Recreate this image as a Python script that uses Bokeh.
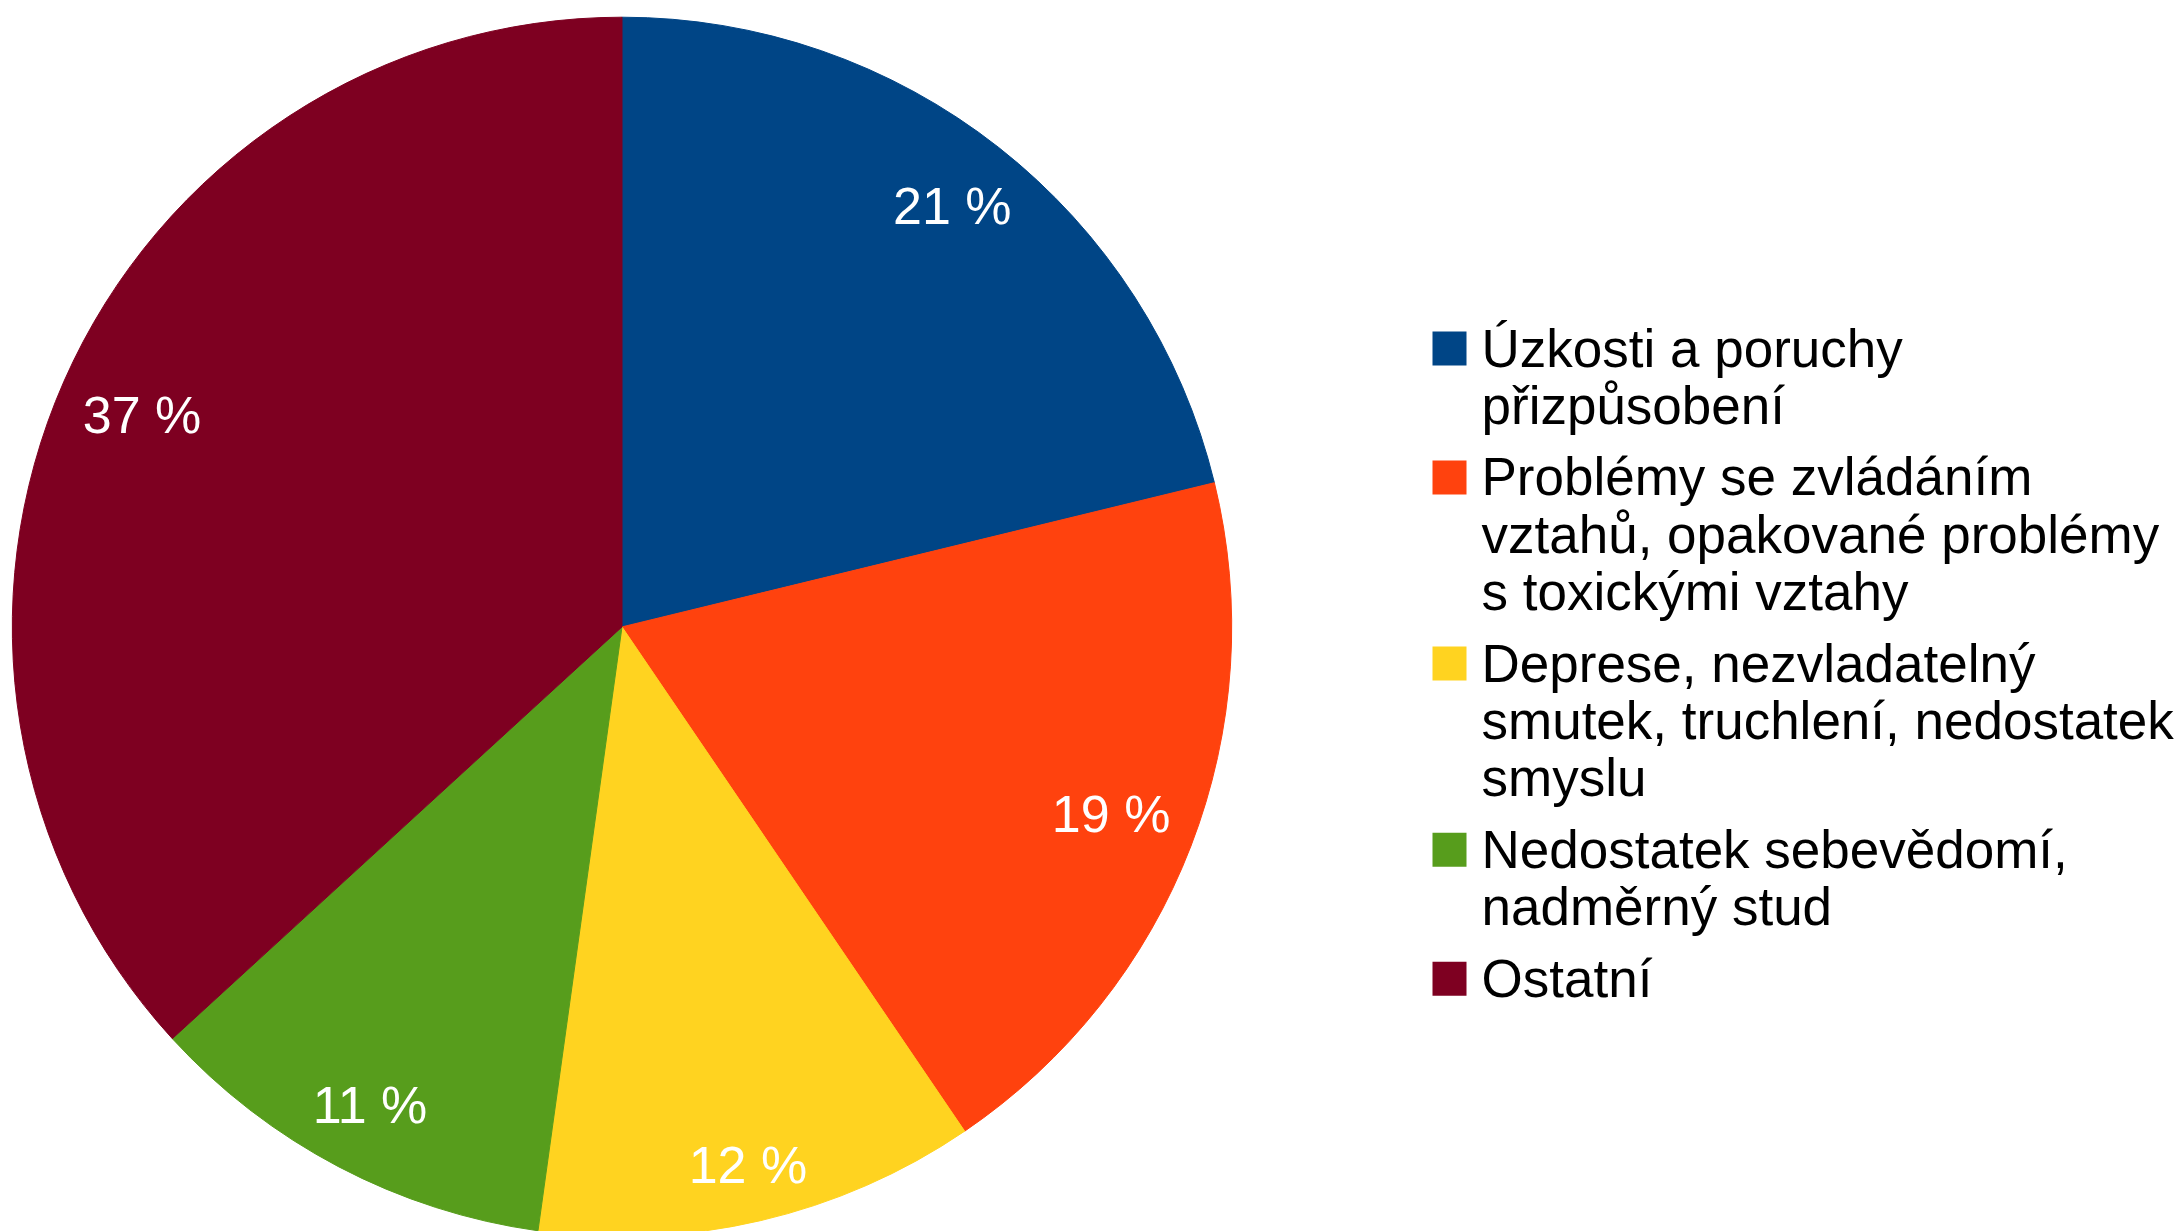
import math
from bokeh.plotting import figure
from bokeh.models import Range1d, ColumnDataSource
from bokeh.embed import file_html
from bokeh.resources import INLINE
from bokeh.core.properties import value

# ---- data ----
legend_lines = [
    ["Úzkosti a poruchy", "přizpůsobení"],
    ["Problémy se zvládáním", "vztahů, opakované problémy", "s toxickými vztahy"],
    ["Deprese, nezvladatelný", "smutek, truchlení, nedostatek", "smyslu"],
    ["Nedostatek sebevědomí,", "nadměrný stud"],
    ["Ostatní"],
]
shares = [21.2, 19.3, 11.7, 11.0, 36.8]
pct_labels = ["21 %", "19 %", "12 %", "11 %", "37 %"]
colors = ["#004586", "#ff420e", "#ffd320", "#579d1c", "#7e0021"]

# ---- layout (figure pixels, y measured downward) ----
W, H = 2180, 1231
CX, CY_DOWN, R = 621.5, 626.4, 609.7
FONT = value("Liberation Sans")


def ydata(y_down):
    return H - y_down


p = figure(width=W, height=H, output_backend="svg", toolbar_location=None,
           x_range=Range1d(0, W), y_range=Range1d(0, H),
           x_axis_type=None, y_axis_type=None, min_border=0)
p.outline_line_color = None
p.grid.visible = False
p.background_fill_color = "white"
p.border_fill_color = "white"

# ---- pie ----
total = sum(shares)
starts, ends, mids = [], [], []
cum = 0.0
for s in shares:
    f0 = cum / total
    cum += s
    f1 = cum / total
    starts.append(math.pi / 2 - 2 * math.pi * f0)
    ends.append(math.pi / 2 - 2 * math.pi * f1)
    mids.append(2 * math.pi * (f0 + f1) / 2)  # clockwise from top

src = ColumnDataSource(dict(start=starts, end=ends, color=colors))
p.wedge(x=CX, y=ydata(CY_DOWN), radius=R, start_angle="start", end_angle="end",
        direction="clock", fill_color="color", line_color="color", line_width=1,
        source=src)

# slice labels
D, HW, HH = 586, 59, 19
lx, ly = [], []
for th in mids:
    ext = HW * abs(math.sin(th)) + HH * abs(math.cos(th))
    dist = D - ext
    cx = CX + dist * math.sin(th)
    cy = CY_DOWN - dist * math.cos(th)
    lx.append(cx)
    ly.append(ydata(cy - 1))
p.text(x=lx, y=ly, text=pct_labels, text_color="white", text_font=FONT,
       text_font_size="52px", text_align="center", text_baseline="alphabetic")

# ---- legend ----
SQ_LEFT, SQ = 1432, 34
TX = 1481
base = 364
step = 57.3
gap = 14.3
tx, ty, tt = [], [], []
sqx, sqy = [], []
for lines in legend_lines:
    sqx.append(SQ_LEFT + SQ / 2)
    sqy.append(ydata(base + 1 - SQ / 2))
    for ln in lines:
        tx.append(TX)
        ty.append(ydata(base - 16.5))
        tt.append(ln)
        base += step
    base += gap

p.rect(x=sqx, y=sqy, width=SQ, height=SQ, fill_color=colors, line_color=None)
p.text(x=tx, y=ty, text=tt, text_color="#000000", text_font=FONT,
       text_font_size="53px", text_align="left", text_baseline="alphabetic")

open("out.html", "w").write(file_html(p, INLINE))
